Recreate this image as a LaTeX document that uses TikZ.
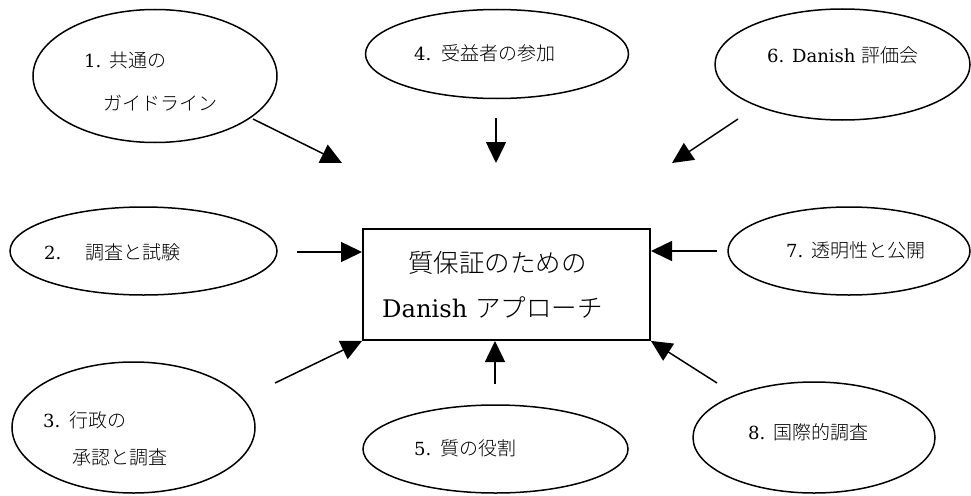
\documentclass[tikz,border=0pt]{standalone}
\usepackage{fontspec}
\setmainfont{DejaVu Serif}[Scale=0.95]
\IfFontExistsTF{Noto Sans CJK JP Light}
  {\newfontfamily\jpfont{Noto Sans CJK JP Light}}
  {\newfontfamily\jpfont{Noto Sans CJK JP}}
\newcommand\numlbl[3]{\makebox[#1][l]{#2}{\jpfont #3}}
\usetikzlibrary{arrows.meta,shapes.geometric}
\tikzset{
  ell/.style={draw, ellipse, line width=1.5pt, inner sep=0pt},
  lbl/.style={anchor=west, inner sep=0pt, font=\fontsize{19}{23}\selectfont},
  boxlbl/.style={anchor=west, inner sep=0pt, font=\fontsize{25.5}{30}\selectfont},
  centre/.style={draw, rectangle, line width=1.8pt, inner sep=0pt},
  conn/.style={line width=1.5pt, -{Triangle[length=21pt,width=20pt]}}
}
\begin{document}
\begin{tikzpicture}[x=1pt,y=-1pt]
\useasboundingbox (0,0) rectangle (971,495);
% ellipses
\node[ell, minimum width=244pt, minimum height=133pt] (e1) at (155,76) {};
\node[ell, minimum width=263pt, minimum height=89pt] (e4) at (497,54) {};
\node[ell, minimum width=255pt, minimum height=111pt] (e6) at (842.5,64.5) {};
\node[ell, minimum width=267pt, minimum height=88pt] (e2) at (143.5,251) {};
\node[ell, minimum width=242pt, minimum height=88pt] (e7) at (849,251) {};
\node[ell, minimum width=243pt, minimum height=131pt] (e3) at (133.5,427.5) {};
\node[ell, minimum width=265pt, minimum height=88pt] (e5) at (495.5,449) {};
\node[ell, minimum width=242pt, minimum height=111pt] (e8) at (814,437.5) {};
% centre box
\node[centre, minimum width=287pt, minimum height=111pt] (box) at (506.5,284.5) {};
% labels
\node[lbl] (t1a) at (84,60) {\numlbl{25pt}{1.}{共通の}};
\node[lbl] (t1b) at (103,103) {\jpfont ガイドライン};
\node[lbl] (t4) at (414,53) {\numlbl{27pt}{4.}{受益者の参加}};
\node[lbl] (t6) at (767,55) {6. Danish {\jpfont 評価会}};
\node[lbl] (t2) at (44,252) {\numlbl{41pt}{2.}{調査と試験}};
\node[lbl] (t7) at (786,250) {\numlbl{25pt}{7.}{透明性と公開}};
\node[lbl] (t3a) at (43,420) {\numlbl{26pt}{3.}{行政の}};
\node[lbl] (t3b) at (72,457) {\jpfont 承認と調査};
\node[lbl] (t5) at (414,448) {\numlbl{26pt}{5.}{質の役割}};
\node[lbl] (t8) at (748,432) {\numlbl{25pt}{8.}{国際的調査}};
\node[boxlbl] (tb1) at (408,263) {\jpfont 質保証のための};
\node[boxlbl] (tb2) at (382,307) {Danish {\jpfont アプローチ}};
% connector end points
\coordinate (s1) at (253,119); \coordinate (h1) at (342,163);
\coordinate (s4) at (496,118); \coordinate (h4) at (496,163);
\coordinate (s6) at (738,119); \coordinate (h6) at (672,163);
\coordinate (s2) at (297,252); \coordinate (h2) at (362,252);
\coordinate (s7) at (717,251); \coordinate (h7) at (651,251);
\coordinate (s3) at (275,383); \coordinate (h3) at (box.south west);
\coordinate (s5) at (495,384); \coordinate (h5) at (495,341);
\coordinate (s8) at (717,383); \coordinate (h8) at (box.south east);
% connectors
\draw[conn] (s1) -- (h1);
\draw[conn] (s4) -- (h4);
\draw[conn] (s6) -- (h6);
\draw[conn] (s2) -- (h2);
\draw[conn] (s7) -- (h7);
\draw[conn] (s3) -- (h3);
\draw[conn] (s5) -- (h5);
\draw[conn] (s8) -- (h8);
\end{tikzpicture}
\end{document}
